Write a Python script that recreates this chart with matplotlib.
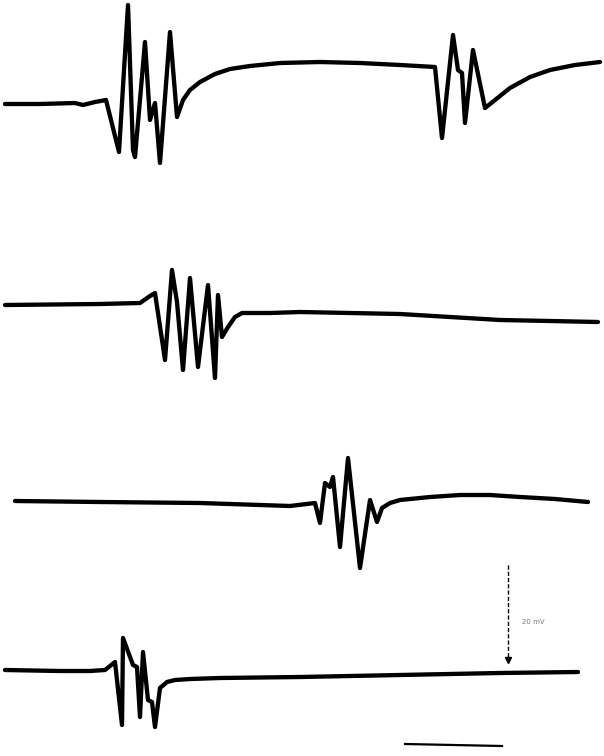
import matplotlib
matplotlib.use("Agg")
import matplotlib.pyplot as plt

# =========================
# traces (x = time, y = deflection)
# =========================
t1_x = [5, 40, 75, 83, 95, 106, 119, 128, 133, 135, 145, 150, 155, 160, 170,
        177, 183, 190, 200, 215, 230, 250, 280, 320, 360, 400, 435, 442, 453,
        458, 462, 465, 473, 485, 495, 510, 530, 550, 575, 600]
t1_y = [104, 104, 103, 105, 102, 100, 152, 5, 150, 157, 42, 120, 103, 163, 32,
        117, 100, 90, 82, 74, 69, 66, 63, 62, 63, 65, 67, 138, 35, 70, 73, 123,
        50, 108, 100, 88, 77, 70, 65, 62]

t2_x = [5, 100, 140, 150, 155, 165, 172, 177, 183, 190, 198, 208, 215, 218,
        222, 228, 235, 242, 270, 300, 350, 400, 450, 500, 550, 598]
t2_y = [305, 304, 303, 296, 293, 360, 270, 302, 370, 278, 367, 285, 378, 295,
        337, 327, 317, 313, 313, 312, 313, 314, 317, 320, 321, 322]

t3_x = [15, 100, 200, 290, 315, 320, 325, 330, 333, 340, 348, 360, 370, 377,
        382, 390, 400, 430, 460, 490, 520, 555, 588]
t3_y = [501, 502, 503, 506, 503, 523, 483, 487, 477, 547, 458, 568, 500, 522,
        508, 503, 500, 497, 495, 495, 497, 499, 502]

t4_x = [5, 60, 90, 105, 115, 122, 123, 133, 137, 140, 143, 148, 152, 155,
        160, 167, 175, 190, 220, 300, 400, 500, 578]
t4_y = [670, 671, 671, 670, 662, 725, 638, 665, 667, 717, 652, 700, 702, 727,
        688, 682, 680, 679, 678, 677, 675, 673, 672]

traces = [(t1_x, t1_y), (t2_x, t2_y), (t3_x, t3_y), (t4_x, t4_y)]

# scale bars
vbar_x = [508, 508]
vbar_y = [565, 660]
hbar_x = [405, 502]
hbar_y = [744, 746]

fig = plt.figure(figsize=(6.04, 7.56), dpi=100)
ax = fig.add_axes([0, 0, 1, 1])
ax.set_xlim(0, 604)
ax.set_ylim(756, 0)
ax.axis("off")

for xs, ys in traces:
    ax.plot(xs, ys, color="black", linewidth=3.1,
            solid_joinstyle="round", solid_capstyle="round")

ax.plot(vbar_x, vbar_y, color="black", linewidth=1.0, linestyle=(0, (3, 1.5)))
ax.plot(vbar_x[1], vbar_y[1], marker="v", color="black", markersize=4)
ax.plot(hbar_x, hbar_y, color="black", linewidth=1.6)

ax.text(522, 622, "20 mV", fontsize=5, color="#777777", va="center")

fig.savefig("out.png", dpi=100)
